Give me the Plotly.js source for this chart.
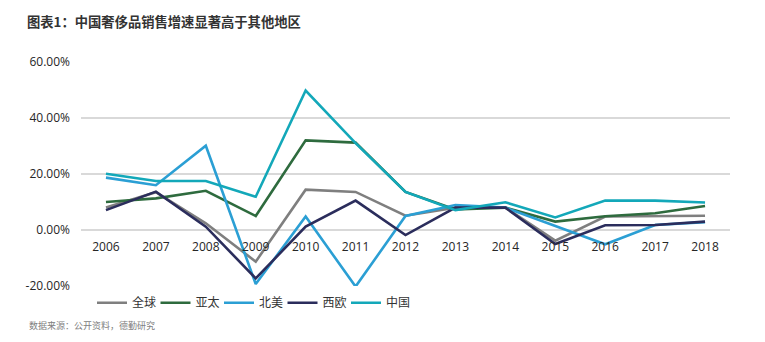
<!DOCTYPE html>
<html>
<head>
<meta charset="utf-8">
<script src="https://cdn.plot.ly/plotly-3.0.1.min.js"></script>
<style>html,body{margin:0;padding:0;background:#fff;}#chart{width:765px;height:342px;}</style>
</head>
<body>
<div id="chart"></div>
<script>
const years = ['2006','2007','2008','2009','2010','2011','2012','2013','2014','2015','2016','2017','2018'];
const seriesNames = ['全球','亚太','北美','西欧','中国'];
const global = [8.0, 13.5, 2.4, -11.3, 14.4, 13.6, 5.1, 8.0, 8.0, -3.8, 4.8, 5.0, 5.1];
const apac   = [10.0, 11.3, 14.0, 5.0, 32.0, 31.2, 13.6, 7.3, 8.0, 3.0, 4.9, 6.0, 8.6];
const northAmerica = [18.7, 16.0, 30.1, -19.3, 4.8, -20.2, 5.0, 8.9, 8.0, 1.5, -5.1, 1.8, 2.8];
const westEurope = [7.1, 13.7, 1.2, -17.3, 1.2, 10.5, -1.8, 8.0, 8.0, -5.0, 1.7, 1.8, 3.0];
const china  = [20.1, 17.5, 17.5, 11.9, 49.8, 31.0, 13.6, 7.1, 9.9, 4.5, 10.5, 10.5, 9.8];
const colors = ['#7f7f7f', '#2e6b3e', '#2b9fd4', '#2b2d5c', '#13a8b9'];
const yTicks = [-20, 0, 20, 40, 60];
const yTickText = yTicks.map(v => v.toFixed(2) + '%');

const allSeries = [global, apac, northAmerica, westEurope, china];
const traces = allSeries.map((vals, i) => ({
  type: 'scatter',
  mode: 'lines',
  x: years,
  y: vals,
  name: seriesNames[i],
  line: {color: colors[i], width: 2.6},
  hoverinfo: 'skip'
}));

const font = 'Open Sans, "Noto Sans CJK SC", sans-serif';
const layout = {
  width: 765, height: 342,
  margin: {l: 81, r: 35, t: 62, b: 56},
  paper_bgcolor: '#fff', plot_bgcolor: '#fff',
  font: {family: font, size: 12, color: '#262626'},
  title: {
    text: '<b>图表1：中国奢侈品销售增速显著高于其他地区</b>',
    x: 27/765, xanchor: 'left', xref: 'container',
    y: 1 - 22/342, yanchor: 'middle', yref: 'container',
    font: {family: '"Noto Sans CJK SC", sans-serif', size: 13.3, color: '#333'}
  },
  xaxis: {
    type: 'category',
    range: [-0.5, 12.5],
    anchor: 'free', position: 0.25,
    showgrid: false, zeroline: false, showline: false,
    ticks: '', ticklabelstandoff: 8,
    tickfont: {family: font, size: 12, color: '#262626'}
  },
  yaxis: {
    range: [-20, 60],
    tickvals: yTicks,
    ticktext: yTickText,
    showgrid: true, gridcolor: '#d9d9d9', gridwidth: 1.5,
    zeroline: true, zerolinecolor: '#d9d9d9', zerolinewidth: 1.5,
    showline: false, ticks: '', ticklabelstandoff: 10,
    tickfont: {family: font, size: 12, color: '#262626'}
  },
  showlegend: true,
  legend: {
    orientation: 'h',
    x: (92-81)/649, xanchor: 'left',
    y: -0.01, yanchor: 'top',
    font: {family: '"Noto Sans CJK SC", sans-serif', size: 12, color: '#333'},
    itemwidth: 30, tracegroupgap: 0,
    entrywidth: 18.5
  },
  annotations: [{
    text: '数据来源：公开资料，德勤研究',
    xref: 'paper', yref: 'paper',
    x: (27-81)/649, xanchor: 'left',
    y: 1 - (325-62)/224, yanchor: 'middle',
    showarrow: false,
    font: {family: '"Noto Sans CJK SC", sans-serif', size: 9, color: '#808080'}
  }]
};

Plotly.newPlot('chart', traces, layout, {displayModeBar: false, staticPlot: true});
</script>
</body>
</html>
